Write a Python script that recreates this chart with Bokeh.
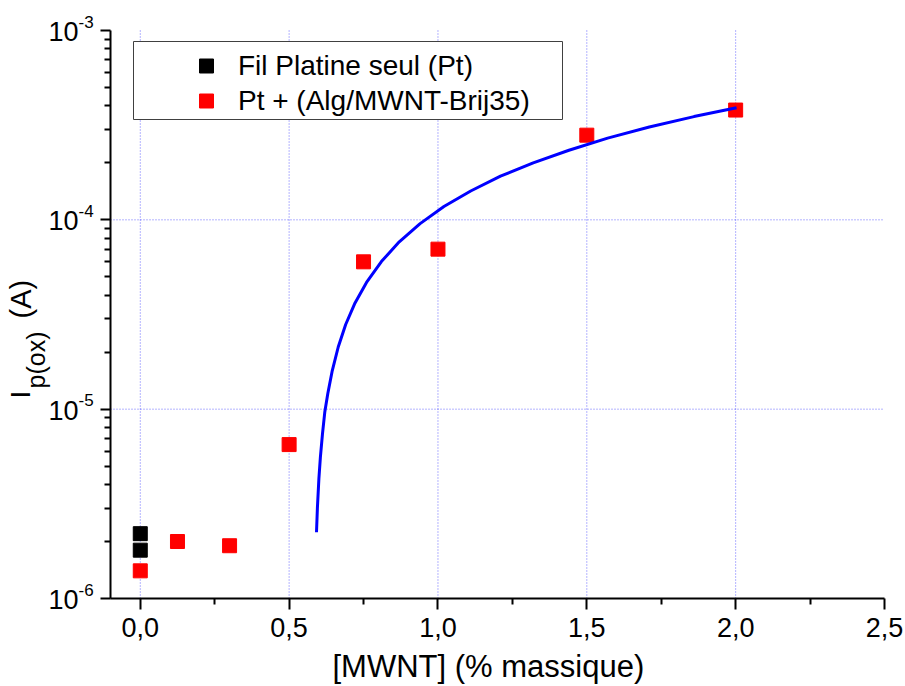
import math
from bokeh.plotting import figure
from bokeh.models import (FixedTicker, Legend, LegendItem, Label, BoxAnnotation,
                          CustomJSTickFormatter)
from bokeh.embed import file_html
from bokeh.resources import INLINE

FONT = "Liberation Sans"

# ---- data ----
pt_x = [0.0, 0.0]
pt_y = [2.2e-6, 1.8e-6]

comp_x = [0.0, 0.125, 0.3, 0.5, 0.75, 1.0, 1.5, 2.0]
comp_y = [1.4e-6, 2.0e-6, 1.9e-6, 6.5e-6, 6.0e-5, 7.0e-5, 2.8e-4, 3.8e-4]

fit_x = [0.592, 0.595, 0.600, 0.605, 0.612, 0.620, 0.630, 0.645, 0.665,
         0.690, 0.720, 0.760, 0.810, 0.870, 0.940, 1.020, 1.110, 1.210,
         1.320, 1.440, 1.570, 1.710, 1.860, 2.003]
fit_y = [2.24e-6, 3.00e-6, 4.28e-6, 5.57e-6, 7.38e-6, 9.70e-6, 1.21e-5,
         1.60e-5, 2.13e-5, 2.80e-5, 3.60e-5, 4.67e-5, 6.02e-5, 7.65e-5,
         9.55e-5, 1.175e-4, 1.42e-4, 1.70e-4, 2.00e-4, 2.33e-4, 2.70e-4,
         3.09e-4, 3.51e-4, 3.91e-4]

x_ticks = [0.0, 0.5, 1.0, 1.5, 2.0, 2.5]
x_tick_labels = ["0,0", "0,5", "1,0", "1,5", "2,0", "2,5"]
x_minor = [0.25, 0.75, 1.25, 1.75, 2.25]

y_ticks = [1e-6, 1e-5, 1e-4, 1e-3]
y_tick_base = "10"
y_tick_exps = ["-6", "-5", "-4", "-3"]

legend_labels = ["Fil Platine seul (Pt)", "Pt + (Alg/MWNT-Brij35)"]
x_title = "[MWNT] (% massique)"
y_title_main = "I"
y_title_sub = "p(ox)"
y_title_unit = "(A)"

# ---- layout (pixels of the 905x686 canvas) ----
W, H = 905, 686
FL, FR, FT, FB = 110, 884, 30, 598      # plot area drawn by the axes
X0, X1 = -0.1, 2.5                      # axis extents
Y0, Y1 = 1e-6, 1e-3


def px_x(px):
    return X0 + (px - FL) / (FR - FL) * (X1 - X0)


def py_y(py):
    ly0, ly1 = math.log10(Y0), math.log10(Y1)
    return 10 ** (ly1 - (py - FT) / (FB - FT) * (ly1 - ly0))


# the frame covers the whole canvas; axes are pinned at the plot-area edges
p = figure(width=W, height=H, x_range=(px_x(0), px_x(W)),
           y_range=(py_y(H), py_y(0)), y_axis_type="log",
           output_backend="svg", toolbar_location=None,
           min_border_left=0, min_border_right=0, min_border_top=0,
           min_border_bottom=0)
p.outline_line_color = None
p.background_fill_color = "white"
p.border_fill_color = "white"
p.xgrid.visible = False
p.ygrid.visible = False

xa = p.xaxis[0]
ya = p.yaxis[0]
xa.fixed_location = Y0
ya.fixed_location = X0
xa.bounds = (X0, X1)
ya.bounds = (Y0, Y1)
xa.ticker = FixedTicker(ticks=x_ticks, minor_ticks=x_minor)
xa.major_label_overrides = dict(zip(x_ticks, x_tick_labels))
y_minor = [m * t for t in y_ticks[:-1] for m in range(2, 10)]
ya.ticker = FixedTicker(ticks=y_ticks, minor_ticks=y_minor)
ya.formatter = CustomJSTickFormatter(code="return ''")

for ax in (xa, ya):
    ax.axis_line_width = 2
    ax.axis_line_color = "black"
    ax.major_tick_line_width = 2
    ax.minor_tick_line_width = 2
    ax.major_tick_line_color = "black"
    ax.minor_tick_line_color = "black"
    ax.major_tick_in = 0
    ax.minor_tick_in = 0
    ax.major_label_text_font = FONT
    ax.major_label_text_font_size = "27px"
    ax.major_label_text_color = "black"

xa.major_tick_out = 11
xa.minor_tick_out = 6
xa.major_label_standoff = 8
ya.major_tick_out = 10
ya.minor_tick_out = 6

# dotted grid lines inside the plot area
gx = x_ticks[:-1]
gy = y_ticks[1:-1]
grid_style = dict(line_color="#0000ff", line_alpha=0.6, line_width=1,
                  line_dash="1 2")
p.segment(x0=gx, y0=[Y0] * len(gx), x1=gx, y1=[Y1] * len(gx), **grid_style)
p.segment(x0=[X0] * len(gy), y0=gy, x1=[X1] * len(gy), y1=gy, **grid_style)

# glyphs
r_pt = p.scatter(pt_x, pt_y, marker="square", size=14,
                 fill_color="black", line_color="black")
r_comp = p.scatter(comp_x, comp_y, marker="square", size=14,
                   fill_color="#ff0000", line_color="#ff0000")
p.line(fit_x, fit_y, line_color="#0000ff", line_width=3)

# legend frame
p.add_layout(BoxAnnotation(left=px_x(133), right=px_x(562),
                           top=py_y(41), bottom=py_y(119),
                           fill_color="white", fill_alpha=1,
                           line_color="#404040", line_alpha=1,
                           line_width=1, line_dash="solid"))

legend = Legend(items=[LegendItem(label=legend_labels[0], renderers=[r_pt]),
                       LegendItem(label=legend_labels[1], renderers=[r_comp])],
                location=(206 - 32 - 4, H - 122))
legend.padding = 4
legend.spacing = 0
legend.margin = 0
legend.glyph_width = 64
legend.glyph_height = 35
legend.label_height = 35
legend.label_standoff = 0
legend.label_text_font = FONT
legend.label_text_font_size = "28px"
legend.label_text_color = "black"
legend.border_line_alpha = 0
legend.background_fill_alpha = 0
p.add_layout(legend)

# y tick labels: 10 with a superscript exponent
for t, e in zip(y_ticks, y_tick_exps):
    p.add_layout(Label(x=X0, y=t, x_offset=-32, y_offset=-1, text=y_tick_base,
                       text_font=FONT, text_font_size="27px",
                       text_align="right", text_baseline="alphabetic",
                       text_color="black"))
    p.add_layout(Label(x=X0, y=t, x_offset=-32, y_offset=9, text=e,
                       text_font=FONT, text_font_size="17px",
                       text_align="left", text_baseline="alphabetic",
                       text_color="black"))

# x axis title
p.add_layout(Label(x=px_x(332), y=py_y(666), text=x_title, text_font=FONT,
                   text_font_size="31px", text_align="left",
                   text_baseline="alphabetic", text_color="black"))

# y axis title (with subscript)
ang = math.pi / 2
for txt, sx, sy, fs in [(y_title_main, 20, 398, "28px"),
                        (y_title_sub, 35, 388, "25px"),
                        (y_title_unit, 20, 318, "29px")]:
    p.add_layout(Label(x=px_x(sx), y=py_y(sy), text=txt, angle=ang,
                       text_font=FONT, text_font_size=fs,
                       text_baseline="alphabetic", text_align="left",
                       text_color="black"))

open("out.html", "w").write(file_html(p, INLINE))
